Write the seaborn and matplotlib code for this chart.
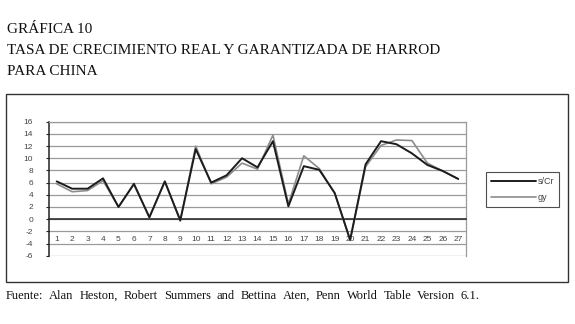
import matplotlib
matplotlib.use("Agg")
import matplotlib.pyplot as plt
import seaborn as sns
import pandas as pd
from matplotlib.patches import Rectangle
from matplotlib.ticker import MultipleLocator

periods = list(range(1, 28))
s_cr = [6.2, 5.0, 5.0, 6.7, 2.0, 5.8, 0.3, 6.2, -0.2, 11.5, 6.0, 7.2, 10.0, 8.5,
        12.8, 2.1, 8.7, 8.1, 4.3, -3.4, 9.0, 12.8, 12.3, 10.8, 8.9, 7.9, 6.6]
gy = [5.8, 4.5, 4.7, 6.3, 2.0, 5.7, 0.3, 6.2, -0.3, 12.0, 5.8, 6.9, 9.2, 8.2,
      13.8, 2.5, 10.4, 8.3, 4.2, -3.5, 8.6, 12.1, 13.0, 12.9, 9.2, 7.9, 6.6]

df = pd.DataFrame({
    "periodo": periods * 2,
    "valor": s_cr + gy,
    "serie": ["s/Cr"] * len(s_cr) + ["gy"] * len(gy),
})

sns.set_style("white")
plt.rcParams["font.family"] = ["Liberation Sans", "DejaVu Sans"]
plt.rcParams["axes.unicode_minus"] = False

fig = plt.figure(figsize=(5.75, 3.24), dpi=100)
ax = fig.add_axes([0.0852, 0.2108, 0.7252, 0.4136])

sns.lineplot(data=df, x="periodo", y="valor", hue="serie", sort=False,
             palette={"s/Cr": "#1c1c1c", "gy": "#8c8c8c"},
             hue_order=["s/Cr", "gy"], ax=ax, legend=False)
for line, lw in zip(ax.lines, (1.4, 1.2)):
    line.set_linewidth(lw)
ax.lines[1].set_zorder(3)
ax.lines[0].set_zorder(4)

ax.set_xlim(0.5, 27.5)
ax.set_ylim(-6, 16)
ax.yaxis.set_major_locator(MultipleLocator(2))
ax.set_xticks(periods)
ax.set_xticks([p + 0.5 for p in periods[:-1]], minor=True)
ax.grid(axis="y", color="#9a9a9a", linewidth=0.9)
ax.set_axisbelow(True)
ax.set_xlabel("")
ax.set_ylabel("")

for side in ("top", "right"):
    ax.spines[side].set_color("#9a9a9a")
    ax.spines[side].set_linewidth(0.9)
ax.spines["left"].set_color("#222222")
ax.spines["left"].set_linewidth(1.1)
ax.spines["bottom"].set_position(("data", 0))
ax.spines["bottom"].set_color("#222222")
ax.spines["bottom"].set_linewidth(1.1)

ax.tick_params(axis="x", which="major", length=0, pad=12, labelsize=6,
               labelcolor="#444444")
ax.tick_params(axis="x", which="minor", length=2.5, direction="out",
               color="#222222", width=0.8)
ax.tick_params(axis="y", length=2.5, direction="out", color="#222222",
               pad=9, labelsize=6, labelcolor="#444444", left=True)

# legend
handles = ax.lines[:2]
leg = fig.legend(handles, ["s/Cr", "gy"], loc="upper left",
                 bbox_to_anchor=(0.845, 0.469), frameon=True, fancybox=False,
                 fontsize=6.5, handlelength=5.0, handletextpad=0.2,
                 borderpad=0.55, labelspacing=0.8, borderaxespad=0)
leg.get_frame().set_edgecolor("#222222")
leg.get_frame().set_linewidth(0.8)
for t in leg.get_texts():
    t.set_color("#444444")

# outer frame
fig.patches.append(Rectangle((0.0104, 0.1296), 0.977, 0.5802,
                             transform=fig.transFigure, fill=False,
                             edgecolor="#333333", linewidth=1.0))

serif = ["Liberation Serif", "DejaVu Serif"]
title_lines = ["GRÁFICA 10",
               "TASA DE CRECIMIENTO REAL Y GARANTIZADA DE HARROD",
               "PARA CHINA"]
for i, txt in enumerate(title_lines):
    fig.text(0.012, 1 - (33 + 21 * i) / 324, txt, family=serif, fontsize=11,
             va="baseline", ha="left", color="#111111")

# justified source line
source = "Fuente: Alan Heston, Robert Summers and Bettina Aten, Penn World Table Version 6.1."
words = source.split()
fig.canvas.draw()
renderer = fig.canvas.get_renderer()
x0, x1 = 6 / 575, 480 / 575
y_src = 1 - 299 / 324
texts = [fig.text(0, y_src, w, family=serif, fontsize=9, va="baseline",
                  color="#111111") for w in words]
widths = [t.get_window_extent(renderer).width / 575 for t in texts]
gap = (x1 - x0 - sum(widths)) / (len(words) - 1)
x = x0
for t, w in zip(texts, widths):
    t.set_x(x)
    x += w + gap

fig.savefig("out.png", dpi=100)
